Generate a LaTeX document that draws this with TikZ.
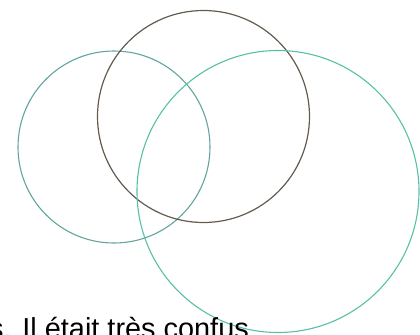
\documentclass[tikz,border=0pt]{standalone}
\usepackage{fontspec}
\setmainfont{Liberation Sans}
\definecolor{leftteal}{RGB}{98,164,160}
\definecolor{midbrown}{RGB}{100,90,78}
\definecolor{rightteal}{RGB}{86,192,166}

\begin{document}
\begin{tikzpicture}[x=1bp, y=-1bp]
  \def\rleft{96bp};
  \def\rmiddle{106bp};
  \def\rright{141bp};
  \coordinate (L) at (114.0, 147.0);
  \coordinate (M) at (203.5, 116.5);
  \coordinate (R) at (278.0, 191.5);
  \useasboundingbox (0, 0) rectangle (420, 335);
  \clip (0, 0) rectangle (420, 335);
  \draw[leftteal, line width=1.1pt] (L) circle[radius=\rleft];
  \draw[midbrown, line width=1.2pt] (M) circle[radius=\rmiddle];
  \draw[rightteal, line width=1.1pt] (R) circle[radius=\rright];
  \node[anchor=base west, inner sep=0pt, font=\fontsize{29}{29}\selectfont] (caption) at (-11, 338) {s. Il était très confus};
\end{tikzpicture}
\end{document}
